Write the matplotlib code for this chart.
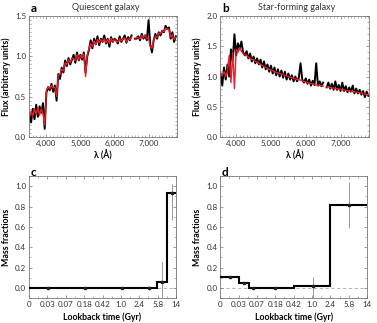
import numpy as np
import matplotlib
matplotlib.use("Agg")
import matplotlib.pyplot as plt
from matplotlib.ticker import MultipleLocator, FixedLocator

plt.rcParams['font.family'] = ['Lato', 'DejaVu Sans']

# --- panel a: quiescent galaxy spectrum (observed = black, model = red), 3500-7800 A, 50 A steps
flux_a_obs = [0.28, 0.18, 0.35, 0.22, 0.40, 0.25, 0.38, 0.30, 0.42, 0.10,
              0.55, 0.62, 0.58, 0.66, 0.56, 0.64, 0.45, 0.78, 0.72, 0.86,
              0.80, 0.95, 0.88, 0.98, 0.90, 0.96, 1.02, 0.92, 1.05, 0.95,
              1.02, 0.96, 1.05, 0.80, 1.00, 1.08, 1.20, 1.10, 1.22, 1.15,
              1.25, 1.14, 1.22, 1.18, 1.26, 1.16, 1.22, 1.12, 1.24, 1.18,
              1.22, 1.20, 1.16, 1.25, 1.18, 1.22, 1.26, 1.17, 1.24, 1.20,
              1.26, np.nan, 1.22, 1.22, 1.25, 1.20, 1.28, 1.22, 1.26, 1.20,
              1.45, 1.15, 1.05, 1.20, 1.28, 1.22, 1.30, 1.26, 1.32, 1.30,
              1.38, 1.34, 1.36, 1.22, 1.30, 1.18, 1.25]
flux_a_mod = [0.25, 0.32, 0.26, 0.35, 0.28, 0.36, 0.27, 0.35, 0.29, 0.15,
              0.58, 0.62, 0.60, 0.64, 0.61, 0.62, 0.50, 0.76, 0.78, 0.84,
              0.82, 0.92, 0.90, 0.96, 0.92, 0.98, 0.97, 0.95, 1.02, 0.96,
              1.01, 0.98, 1.03, 0.75, 1.02, 1.10, 1.16, 1.12, 1.19, 1.15,
              1.21, 1.17, 1.21, 1.18, 1.22, 1.17, 1.21, 1.16, 1.22, 1.18,
              1.21, 1.19, 1.18, 1.22, 1.19, 1.22, 1.23, 1.18, 1.22, 1.21,
              1.24, np.nan, 1.21, 1.24, 1.23, 1.22, 1.26, 1.23, 1.27, 1.22,
              1.23, 1.12, 1.10, 1.20, 1.25, 1.24, 1.29, 1.28, 1.32, 1.31,
              1.35, 1.34, 1.34, 1.24, 1.27, 1.21, 1.24]

# --- panel b: star-forming galaxy spectrum, 3550-7800 A, 50 A steps
flux_b_obs = [1.05, 0.85, 1.15, 0.95, 1.20, 1.00, 1.45, 1.25, 1.70, 1.35,
              1.55, 1.45, 1.58, 1.40, 1.35, 1.42, 1.30, 1.38, 1.25, 1.33,
              1.22, 1.30, 1.20, 1.28, 1.15, 1.25, 1.12, 1.20, 1.08, 1.18,
              1.05, 1.15, 1.02, 1.12, 1.00, 1.10, 0.98, 1.08, 0.95, 1.05,
              0.95, 1.02, 0.92, 1.00, 0.92, 0.98, 1.22, 0.95, 0.90, 0.97,
              0.88, 0.95, 0.85, 0.93, 0.86, 1.22, 0.85, 0.92, 0.84, 0.90,
              np.nan, 0.82, 0.90, 0.80, 0.88, 0.78, 0.92, 0.78, 0.86, 0.76,
              0.90, 0.76, 0.84, 0.74, 0.82, 0.75, 0.85, 0.72, 0.80, 0.72,
              0.78, 0.70, 0.76, 0.66, 0.75, 0.68]
flux_b_mod = [1.05, 1.02, 1.08, 1.00, 1.10, 1.35, 0.90, 1.40, 0.80, 1.45,
              1.40, 1.48, 1.42, 1.38, 1.36, 1.35, 1.32, 1.30, 1.28, 1.28,
              1.25, 1.24, 1.22, 1.20, 1.18, 1.17, 1.15, 1.14, 1.12, 1.11,
              1.10, 1.08, 1.07, 1.06, 1.05, 1.04, 1.03, 1.02, 1.01, 1.00,
              0.99, 0.98, 0.97, 0.96, 0.95, 0.95, 0.94, 0.93, 0.92, 0.91,
              0.90, 0.89, 0.88, 0.88, 0.87, 0.86, 0.86, 0.85, 0.85, 0.84,
              np.nan, 0.83, 0.83, 0.82, 0.81, 0.81, 0.80, 0.80, 0.79, 0.79,
              0.78, 0.78, 0.77, 0.77, 0.76, 0.76, 0.75, 0.75, 0.74, 0.74,
              0.73, 0.73, 0.72, 0.71, 0.70, 0.70]

# --- panels c/d: star formation histories (lookback-time bins on an index axis)
age_labels = ['0', '0.03', '0.07', '0.18', '0.42', '1.0', '2.4', '5.8', '14']

c_edges = [0, 6.98, 7.49, 8]
c_frac = [0.0, 0.06, 0.93]
c_pt_x = [1.04, 3.04, 5.04, 6.53, 7.25, 7.76]
c_pt_y = [0.0, 0.0, 0.0, 0.0, 0.06, 0.93]
c_err_lo = [0.005, 0.005, 0.005, 0.02, 0.16, 0.26]
c_err_hi = [0.005, 0.005, 0.005, 0.02, 0.20, 0.09]

d_edges = [0, 1.04, 1.55, 4.04, 6.0, 8]
d_frac = [0.11, 0.05, 0.0, 0.02, 0.82]
d_pt_x = [0.51, 1.31, 1.78, 3.0, 5.04, 7.0]
d_pt_y = [0.11, 0.05, 0.0, 0.0, 0.02, 0.82]
d_err_lo = [0.01, 0.01, 0.005, 0.005, 0.12, 0.23]
d_err_hi = [0.01, 0.01, 0.005, 0.005, 0.09, 0.22]

spine_col = '#777777'


def style_axes(ax):
    for s in ax.spines.values():
        s.set_color(spine_col)
        s.set_linewidth(0.6)
    ax.tick_params(which='both', direction='in', top=True, right=True,
                   color=spine_col, labelsize=5.8, pad=2, labelcolor='#333333')
    ax.tick_params(which='major', length=2.5, width=0.5)
    ax.tick_params(which='minor', length=1.3, width=0.4)


fig = plt.figure(figsize=(3.77, 3.23), dpi=100)
ax_a = fig.add_axes([0.077, 0.576, 0.392, 0.374])
ax_b = fig.add_axes([0.584, 0.576, 0.395, 0.374])
ax_c = fig.add_axes([0.077, 0.077, 0.390, 0.378])
ax_d = fig.add_axes([0.584, 0.077, 0.390, 0.378])

# spectra
wave_a = np.linspace(3500, 7800, len(flux_a_obs))
wave_b = np.linspace(3550, 7800, len(flux_b_obs))
ax_a.plot(wave_a, flux_a_obs, color='black', lw=1.4)
ax_a.plot(wave_a, flux_a_mod, color='#ee1c24', lw=1.0)
ax_b.plot(wave_b, flux_b_obs, color='black', lw=1.4)
ax_b.plot(wave_b, flux_b_mod, color='#ee1c24', lw=1.0)

ax_a.set_xlim(3490, 7830)
ax_a.set_ylim(0, 1.5)
ax_b.set_xlim(3540, 7820)
ax_b.set_ylim(0, 2.0)
for ax in (ax_a, ax_b):
    ax.xaxis.set_major_locator(MultipleLocator(1000))
    ax.xaxis.set_minor_locator(MultipleLocator(100))
    ax.yaxis.set_major_locator(MultipleLocator(0.5))
    ax.yaxis.set_minor_locator(MultipleLocator(0.1))
    ax.set_xticks([4000, 5000, 6000, 7000])
    ax.set_xticklabels(['4,000', '5,000', '6,000', '7,000'])
    ax.set_xlabel('λ (Å)', fontsize=6.3, fontweight='bold', labelpad=2)
    ax.set_ylabel('Flux (arbitrary units)', fontsize=6.3, fontweight='bold', labelpad=3)
    style_axes(ax)
ax_a.yaxis.set_minor_locator(MultipleLocator(0.05))

# star formation histories
for ax, edges, frac, px, py, elo, ehi in (
        (ax_c, c_edges, c_frac, c_pt_x, c_pt_y, c_err_lo, c_err_hi),
        (ax_d, d_edges, d_frac, d_pt_x, d_pt_y, d_err_lo, d_err_hi)):
    ax.axhline(0, color='#aaaaaa', lw=0.6, ls=(0, (4, 3)), zorder=1)
    ax.stairs(frac, edges, color='black', lw=1.5, baseline=None, zorder=3)
    ax.errorbar(px, py, yerr=[elo, ehi], fmt='none', ecolor='#888888',
                elinewidth=0.6, capsize=0, zorder=2)
    ax.plot(px, py, 's', color='#222222', ms=2.0, zorder=4)
    ax.set_xlim(0, 8)
    ax.set_ylim(-0.1, 1.1)
    ax.xaxis.set_major_locator(FixedLocator(range(9)))
    ax.xaxis.set_minor_locator(MultipleLocator(0.5))
    ax.set_xticklabels(age_labels)
    ax.yaxis.set_major_locator(FixedLocator([0, 0.2, 0.4, 0.6, 0.8, 1.0]))
    ax.yaxis.set_minor_locator(MultipleLocator(0.1))
    ax.set_yticklabels(['0.0', '0.2', '0.4', '0.6', '0.8', '1.0'])
    ax.set_xlabel('Lookback time (Gyr)', fontsize=6.3, fontweight='bold', labelpad=3)
    ax.set_ylabel('Mass fractions', fontsize=6.3, fontweight='bold', labelpad=3)
    style_axes(ax)

# panel letters and titles
fig.text(31 / 377, 1 - 9 / 323, 'a', fontsize=8.5, fontweight='bold', va='center')
fig.text(222 / 377, 1 - 9 / 323, 'b', fontsize=8.5, fontweight='bold', va='center')
fig.text(31 / 377, 1 - 173 / 323, 'c', fontsize=8.5, fontweight='bold', va='center')
fig.text(222 / 377, 1 - 173 / 323, 'd', fontsize=8.5, fontweight='bold', va='center')
fig.text(106 / 377, 1 - 8 / 323, 'Quiescent galaxy', fontsize=6.5, ha='center', va='center', color='#333333')
fig.text(297 / 377, 1 - 8 / 323, 'Star-forming galaxy', fontsize=6.5, ha='center', va='center', color='#333333')

fig.savefig('out.png', dpi=100)
